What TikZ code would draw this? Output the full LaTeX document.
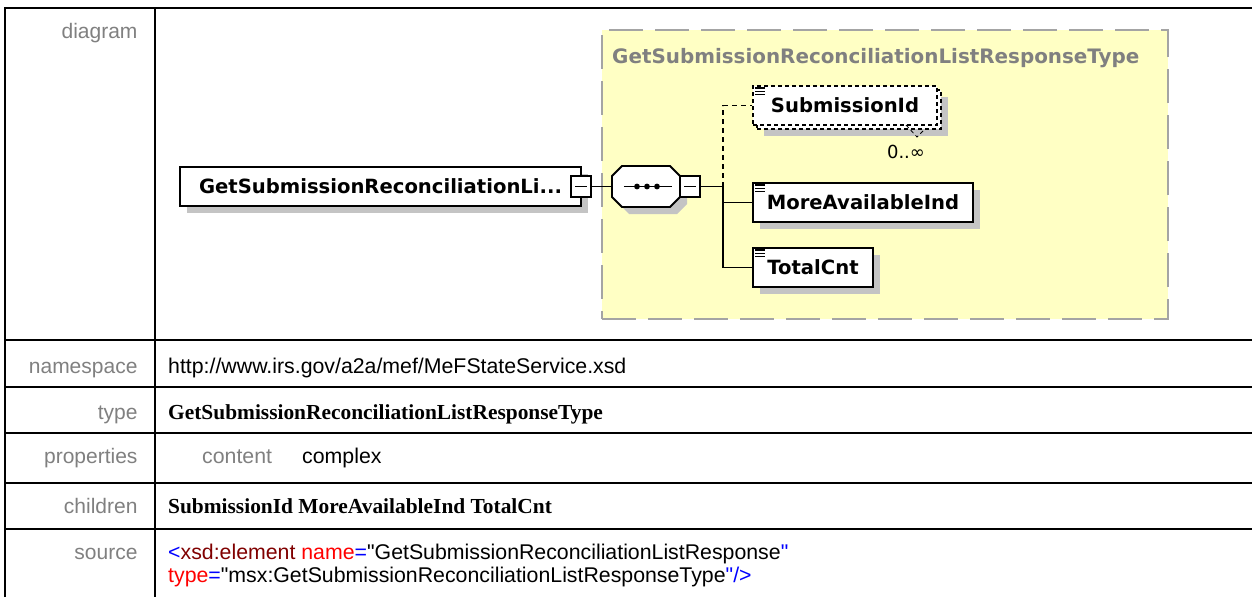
\documentclass[tikz,border=0pt]{standalone}
\usepackage{fontspec}
\setmainfont{Liberation Sans}[Ligatures=TeXOff]
\newfontfamily\spyfont{DejaVu Sans}
\newfontfamily\serifbf{Liberation Serif}
\usetikzlibrary{shadows}
\definecolor{labelgray}{HTML}{808080}
\definecolor{typeyellow}{HTML}{FFFFC4}
\definecolor{typeborder}{HTML}{A4A4A4}
\definecolor{shadegray}{HTML}{C4C4C4}
\definecolor{xmlblue}{HTML}{0000FF}
\definecolor{xmlmaroon}{HTML}{800000}
\definecolor{xmlred}{HTML}{FF0000}
\newcommand{\simpleicon}[1]{%
  \foreach \k in {0,1,2}
    \draw[line width=1.6pt] ([xshift=3pt, yshift=-\k*3.2pt-3pt]#1.north west) -- ++(10,0);}
\newcommand{\seqoctagon}[2]{%
  \path[#2] (seq.center) ++(#1) ++(-24,-20.5) -- ++(48,0) -- ++(10,10) -- ++(0,21)
    -- ++(-10,10) -- ++(-48,0) -- ++(-10,-10) -- ++(0,-21) -- cycle;}

\begin{document}
\begin{tikzpicture}[x=1pt, y=-1pt,
  rule/.style={line width=2.5pt},
  lbl/.style={anchor=base east, text=labelgray, font=\fontsize{21}{25}\selectfont},
  val/.style={anchor=base west, inner sep=0pt, font=\fontsize{21.3}{25}\selectfont},
  valbf/.style={val, font=\serifbf\bfseries\fontsize{21.4}{25}\selectfont},
  eltbox/.style={draw, line width=1.8pt, fill=white, minimum height=39pt, inner sep=0pt,
    font=\spyfont\bfseries\fontsize{19.6}{22}\selectfont},
  shadowed/.style={drop shadow={shadow xshift=7pt, shadow yshift=-7pt, fill=shadegray, opacity=1}},
  optdash/.style={dash pattern=on 4pt off 3pt},
  collapse/.style={draw, line width=1.5pt, fill=white, minimum width=20pt, minimum height=21pt,
    inner sep=0pt, path picture={\draw[line width=1.5pt] ([xshift=4pt]path picture bounding box.west)
      -- ([xshift=-4pt]path picture bounding box.east);}},
  conn/.style={line width=1.8pt},
  typebox/.style={draw=typeborder, fill=typeyellow, line width=2.2pt, dash pattern=on 34pt off 12pt}]
  \fill[white] (0,0) rectangle (1252,597);
  \useasboundingbox (0,0) rectangle (1252,597);

  \draw[rule] (5,597) -- (5,8) -- (1252,8);
  \draw[rule] (155,8) -- (155,597);
  \foreach \y in {340,387,433,483,529} \draw[rule] (5,\y) -- (1252,\y);
  \foreach \name/\y in {diagram/38, namespace/373, type/419, properties/463, children/513, source/559}
    \node[lbl] (lbl-\name) at (141,\y) {\name};

  \node[typebox, anchor=north west, minimum width=566pt, minimum height=289pt] (cplx) at (601,29) {};
  \node[anchor=base west, inner sep=0pt, text=labelgray, font=\spyfont\bfseries\fontsize{19.9}{22}\selectfont]
    (cplxtitle) at (612,63) {GetSubmissionReconciliationListResponseType};

  \node[eltbox, shadowed, minimum width=401pt] (root) at (380.5,186.5) {GetSubmissionReconciliationLi...};
  \node[collapse] (rootminus) at (581,186.5) {};
  \node[minimum width=68pt, minimum height=41pt, inner sep=0pt] (seq) at (646,186.5) {};
  \seqoctagon{7,7}{fill=shadegray}
  \seqoctagon{0,0}{draw, fill=white, line width=1.8pt}
  \draw[conn] ([xshift=12pt]seq.west) -- ([xshift=-8pt]seq.east);
  \foreach \dx in {-9,1,11} \fill ([xshift=\dx pt]seq.center) circle (2.9pt);
  \node[collapse] (seqminus) at (690,186.5) {};
  \coordinate (fork) at (723,186.5);

  \node[eltbox, shadowed, optdash, minimum width=184pt] (sidback) at (849,109.5) {};
  \node[eltbox, optdash, minimum width=184pt] (sid) at (845,105.5) {SubmissionId};
  \node[eltbox, shadowed, minimum width=220pt] (more) at (863,202.5) {MoreAvailableInd};
  \node[eltbox, shadowed, minimum width=120pt] (total) at (813,267.5) {TotalCnt};
  \simpleicon{sid} \simpleicon{more} \simpleicon{total}
  \draw[line width=0.8pt, optdash] (906,125) -- (917,137) -- (923,131);
  \node[anchor=base, inner sep=0pt, font=\spyfont\fontsize{18}{20}\selectfont] (card) at (906,158) {0..∞};

  \draw[conn] (rootminus) -- (seq.west);
  \draw[conn] (seqminus) -- (fork);
  \draw[conn, dash pattern=on 5pt off 4pt] (fork) |- (sid.west);
  \draw[conn] (fork) |- (more.west);
  \draw[conn] (fork) |- (total.west);

  \node[val] (nsval) at (168,373) {http://www.irs.gov/a2a/mef/MeFStateService.xsd};
  \node[valbf] (typeval) at (168,419) {GetSubmissionReconciliationListResponseType};
  \node[val, text=labelgray] (propkey) at (202,463) {content};
  \node[val] (propval) at (302,463) {complex};
  \node[valbf] (kidsval) at (168,513) {SubmissionId MoreAvailableInd TotalCnt};
  \node[val] (srcone) at (168,559) {\textcolor{xmlblue}{<}\textcolor{xmlmaroon}{xsd:element}
    \textcolor{xmlred}{name}\textcolor{xmlblue}{=}"GetSubmissionReconciliationListResponse\textcolor{xmlblue}{"}};
  \node[val] (srctwo) at (168,582) {\textcolor{xmlred}{type}\textcolor{xmlblue}{=}"msx:GetSubmissionReconciliationListResponseType\textcolor{xmlblue}{"/>}};
\end{tikzpicture}
\end{document}
